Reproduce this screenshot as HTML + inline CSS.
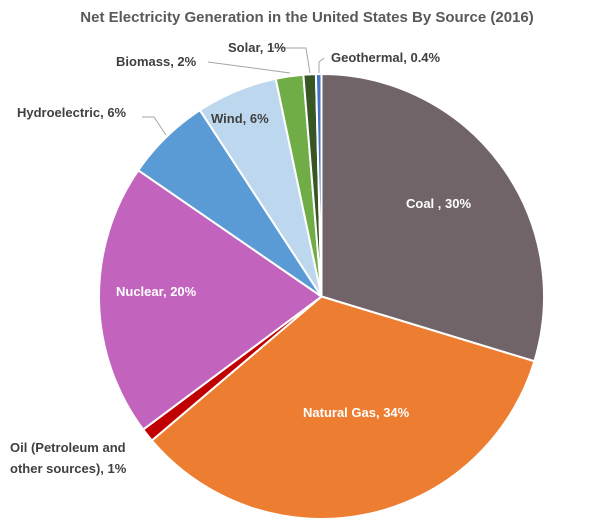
<!DOCTYPE html><html><head><style>body{margin:0;background:#fff}svg{display:block}text{font-family:"Liberation Sans",Arial,sans-serif;font-weight:bold}</style></head><body>
<svg id="s" width="614" height="529" viewBox="0 0 614 529">
<text x="307" y="22" text-anchor="middle" font-size="15" fill="#595959">Net Electricity Generation in the United States By Source (2016)</text>
<g id="p"></g>
<g fill="none" stroke="#a6a6a6" stroke-width="1">
<polyline points="142,117 154,117 166,135"/>
<polyline points="208,62 290,73"/>
<polyline points="270,48 306,48 310,73"/>
<polyline points="324,58 319,62 319,73"/>
</g>
<g font-size="13" fill="#404040">
<text x="17" y="117">Hydroelectric, 6%</text>
<text x="116" y="66">Biomass, 2%</text>
<text x="228" y="52">Solar, 1%</text>
<text x="331" y="62">Geothermal, 0.4%</text>
<text x="10" y="452">Oil (Petroleum and</text>
<text x="10" y="473">other sources), 1%</text>
<text x="211" y="123">Wind, 6%</text>
</g>
<g font-size="13" fill="#fff">
<text x="406" y="208">Coal , 30%</text>
<text x="303" y="417">Natural Gas, 34%</text>
<text x="116" y="296">Nuclear, 20%</text>
</g>
</svg>
<script>
var cx=321.5,cy=296.5,r=222.5;
var b=[0,.297,.638,.648,.846,.908,.967,.987,.996,1];
var c=["#706468","#ED7D31","#C00000","#C264BE","#5B9BD5","#BDD7EE","#70AD47","#375623","#4472C4"];
var g=document.getElementById("p"),h="";
function pt(f){var a=f*2*Math.PI;return [cx+r*Math.sin(a),cy-r*Math.cos(a)];}
for(var i=0;i<9;i++){var p1=pt(b[i]),p2=pt(b[i+1]),l=(b[i+1]-b[i])>.5?1:0;
h+='<path d="M'+cx+','+cy+'L'+p1[0]+','+p1[1]+'A'+r+','+r+' 0 '+l+' 1 '+p2[0]+','+p2[1]+'Z" fill="'+c[i]+'" stroke="#fff" stroke-width="2" stroke-linejoin="round"/>';}
g.innerHTML=h;
</script>
</body></html>
